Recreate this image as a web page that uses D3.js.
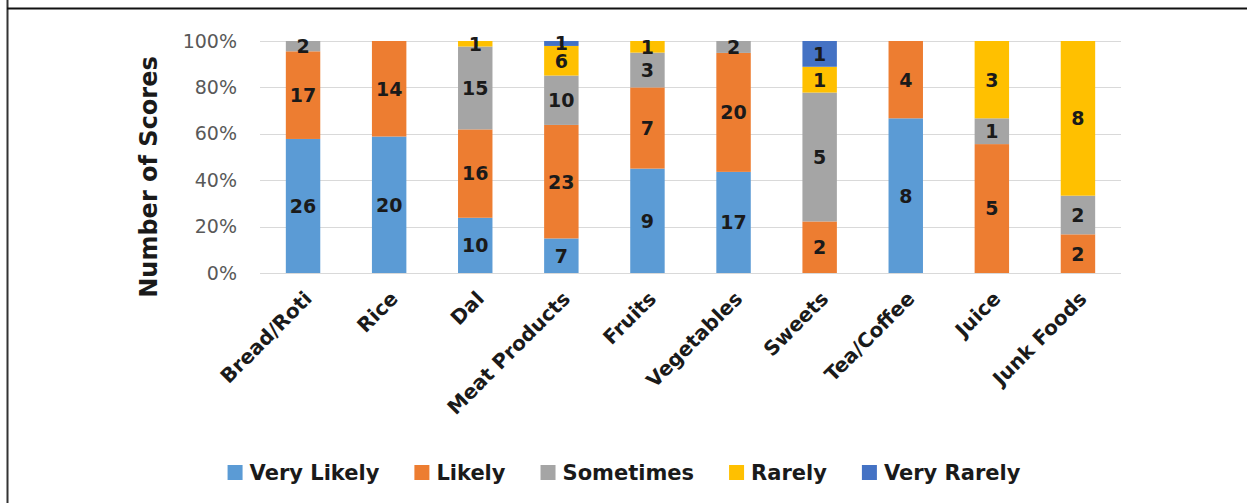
<!DOCTYPE html>
<html>
<head>
<meta charset="utf-8">
<script src="https://cdnjs.cloudflare.com/ajax/libs/d3/7.8.5/d3.min.js"></script>
<style>
    body { margin: 0; background: #fff; }
    svg { display: block; font-family: "DejaVu Sans", sans-serif; }
</style>
</head>
<body>
<div id="chart"></div>
<script>
// Chart data
const categories = ['Bread/Roti', 'Rice', 'Dal', 'Meat Products', 'Fruits', 'Vegetables', 'Sweets', 'Tea/Coffee', 'Juice', 'Junk Foods'];
const seriesNames = ['Very Likely', 'Likely', 'Sometimes', 'Rarely', 'Very Rarely'];
const veryLikely = [26, 20, 10, 7, 9, 17, 0, 8, 0, 0];
const likely = [17, 14, 16, 23, 7, 20, 2, 4, 5, 2];
const sometimes = [2, 0, 15, 10, 3, 2, 5, 0, 1, 2];
const rarely = [0, 0, 1, 6, 1, 0, 1, 0, 3, 8];
const veryRarely = [0, 0, 0, 1, 0, 0, 1, 0, 0, 0];
const yTicks = [0, 0.2, 0.4, 0.6, 0.8, 1];
const colors = ['#5B9BD5', '#ED7D31', '#A5A5A5', '#FFC000', '#4472C4'];

const width = 1247;
const height = 503;

const svg = d3.select('#chart')
    .append('svg')
    .attr('width', width)
    .attr('height', height);

// Frame lines
svg.append('line')
    .attr('x1', 7.5).attr('x2', 7.5)
    .attr('y1', 0).attr('y2', height)
    .style('stroke', '#333').style('stroke-width', 2);
svg.append('line')
    .attr('x1', 7).attr('x2', width)
    .attr('y1', 8.5).attr('y2', 8.5)
    .style('stroke', '#111').style('stroke-width', 2);

// Build table for the stack
const table = categories.map((c, i) => ({
    category: c,
    'Very Likely': veryLikely[i],
    'Likely': likely[i],
    'Sometimes': sometimes[i],
    'Rarely': rarely[i],
    'Very Rarely': veryRarely[i]
}));

const stacked = d3.stack()
    .keys(seriesNames)
    .offset(d3.stackOffsetExpand)(table);

// Scales
const xScale = d3.scaleBand()
    .domain(categories)
    .range([260, 1121])
    .paddingInner(0.6)
    .paddingOuter(0.3);

const yScale = d3.scaleLinear()
    .domain([0, 1])
    .range([273, 41]);

const color = d3.scaleOrdinal().domain(seriesNames).range(colors);

// Gridlines
svg.append('g')
    .selectAll('line')
    .data(yTicks)
    .join('line')
    .attr('x1', 260).attr('x2', 1121)
    .attr('y1', d => Math.round(yScale(d)) + 0.5)
    .attr('y2', d => Math.round(yScale(d)) + 0.5)
    .style('stroke', '#d9d9d9')
    .style('stroke-width', 1);

// Y axis labels
const yAxis = d3.axisLeft(yScale)
    .tickValues(yTicks)
    .tickFormat(d3.format('.0%'))
    .tickSize(0)
    .tickPadding(0);

const yG = svg.append('g')
    .attr('transform', 'translate(237,0)')
    .call(yAxis);
yG.select('.domain').remove();
yG.selectAll('text')
    .style('font-family', '"DejaVu Sans", sans-serif')
    .style('font-size', '19px')
    .style('fill', '#595959');

// Y axis title
svg.append('text')
    .attr('transform', 'translate(157,177) rotate(-90)')
    .attr('text-anchor', 'middle')
    .style('font-size', '24px')
    .style('font-weight', 'bold')
    .style('fill', '#1a1a1a')
    .text('Number of Scores');

// Bars
const layers = svg.append('g')
    .selectAll('g')
    .data(stacked)
    .join('g')
    .style('fill', d => color(d.key));

layers.selectAll('rect')
    .data(d => d)
    .join('rect')
    .attr('x', d => xScale(d.data.category))
    .attr('width', xScale.bandwidth())
    .attr('y', d => yScale(d[1]))
    .attr('height', d => yScale(d[0]) - yScale(d[1]));

// Data labels
stacked.forEach(s => {
    svg.append('g')
        .selectAll('text')
        .data(s.filter(d => d.data[s.key] > 0))
        .join('text')
        .attr('x', d => xScale(d.data.category) + xScale.bandwidth() / 2)
        .attr('y', d => yScale((d[0] + d[1]) / 2))
        .attr('dy', '0.36em')
        .attr('text-anchor', 'middle')
        .style('font-size', '19px')
        .style('font-weight', 'bold')
        .style('fill', '#1a1a1a')
        .text(d => d.data[s.key]);
});

// X axis labels (rotated)
svg.append('g')
    .selectAll('text')
    .data(categories)
    .join('text')
    .attr('transform', d => `translate(${xScale(d) + xScale.bandwidth() / 2 + 10},300) rotate(-45)`)
    .attr('text-anchor', 'end')
    .style('font-size', '20px')
    .style('font-weight', 'bold')
    .style('fill', '#1a1a1a')
    .text(d => d);

// Legend
const legend = svg.append('g');
const items = legend.selectAll('g')
    .data(seriesNames)
    .join('g');

items.append('rect')
    .attr('width', 15)
    .attr('height', 15)
    .attr('y', 465)
    .style('fill', d => color(d));

items.append('text')
    .attr('x', 22)
    .attr('y', 472.5)
    .attr('dy', '0.36em')
    .style('font-size', '21px')
    .style('font-weight', 'bold')
    .style('fill', '#1a1a1a')
    .text(d => d);

let offset = 0;
const positions = [];
items.each(function() {
    const w = d3.select(this).select('text').node().getComputedTextLength();
    positions.push(offset);
    offset += 22 + w + 35;
});
const totalWidth = offset - 35;
const startX = 624 - totalWidth / 2;
items.attr('transform', (d, i) => `translate(${startX + positions[i]},0)`);
</script>
</body>
</html>
